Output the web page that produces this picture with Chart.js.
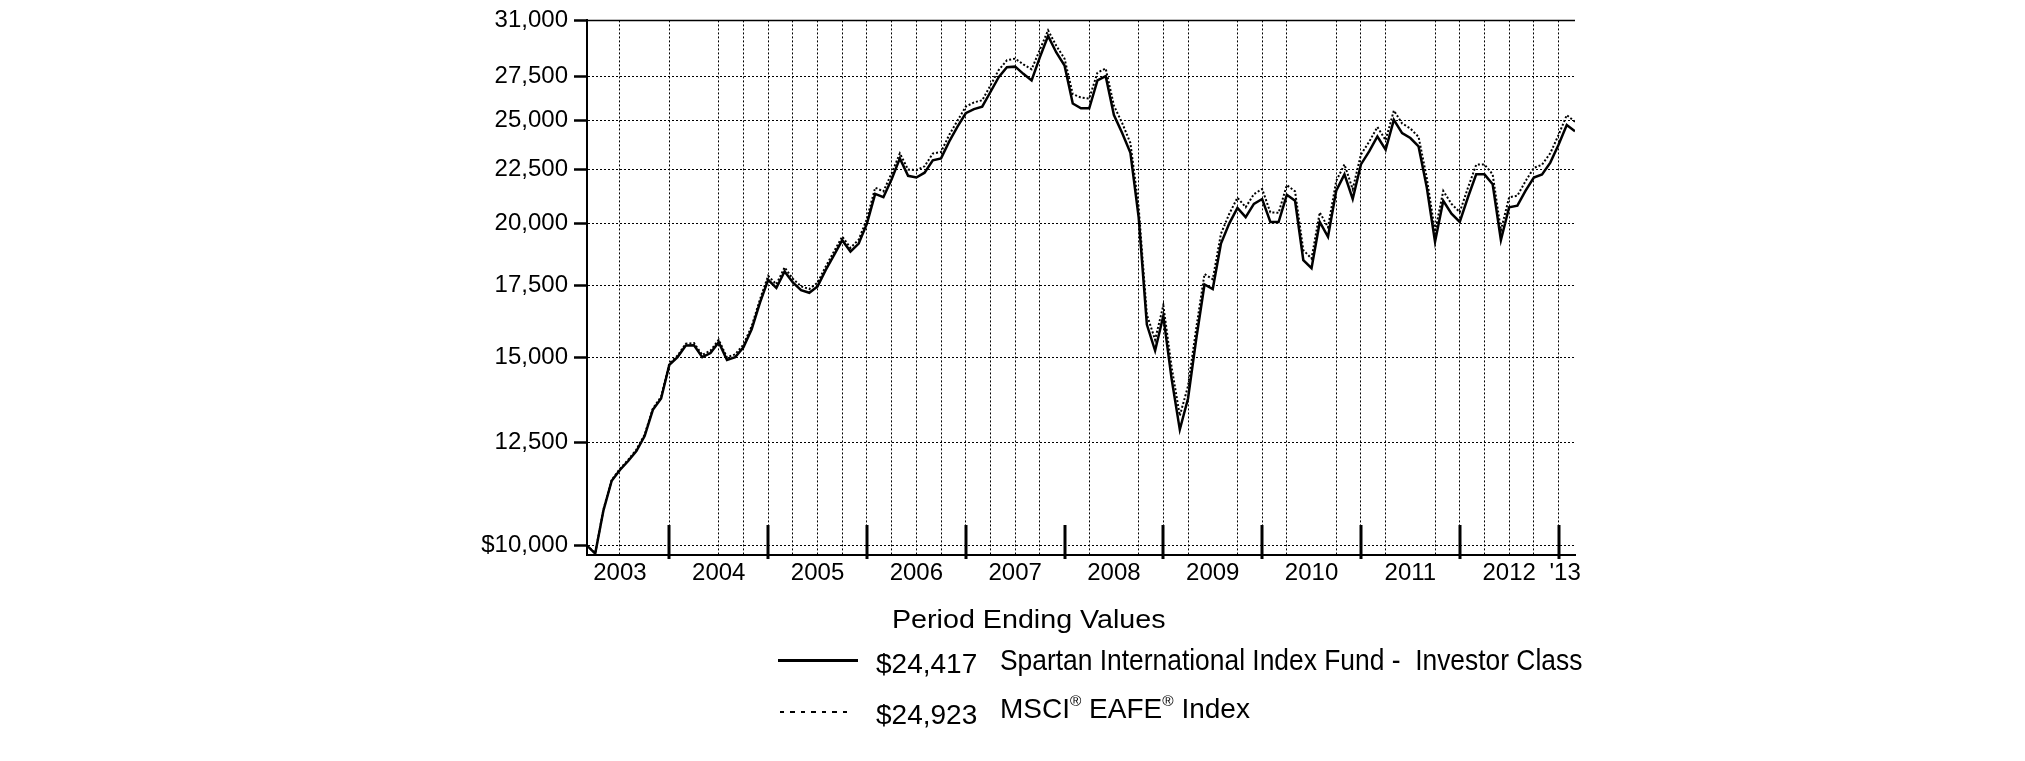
<!DOCTYPE html>
<html lang="en">
<head>
    <meta charset="UTF-8">
    <title>Spartan International Index Fund - Hypothetical Growth of $10,000</title>
    <script src="https://cdn.jsdelivr.net/npm/chart.js"></script>
    <style>
        body {
            margin: 0;
            background: #ffffff;
            color: #000000;
            font-family: 'Liberation Sans', Arial, sans-serif;
        }
        .wrap {
            position: relative;
            width: 2025px;
            height: 761px;
        }
        .txt {
            position: absolute;
            white-space: pre;
            line-height: 1;
            transform-origin: 0 0;
        }
        .txt sup {
            font-size: 55%;
            vertical-align: 0.75em;
            line-height: 0;
        }
        .sample-solid {
            position: absolute;
            height: 3px;
            background: #000;
        }
        .sample-dotted {
            position: absolute;
            height: 2px;
            background: repeating-linear-gradient(to right, #000 0 4px, transparent 4px 10.5px);
        }
    </style>
</head>
<body>
    <div class="wrap">
        <canvas id="growthChart" width="2025" height="761"></canvas>

        <div class="txt" style="left:892px; top:607px; font-size:25.6px; transform:scaleX(1.12);">Period Ending Values</div>

        <div class="sample-solid" style="left:778px; top:659px; width:80px;"></div>
        <div class="txt" style="left:876px; top:650px; font-size:28px;">$24,417</div>
        <div class="txt" style="left:1000px; top:646px; font-size:29px; transform:scaleX(0.91);">Spartan International Index Fund -  Investor Class</div>

        <div class="sample-dotted" style="left:780px; top:711px; width:72px;"></div>
        <div class="txt" style="left:876px; top:701px; font-size:28px;">$24,923</div>
        <div class="txt" style="left:1000px; top:695px; font-size:28px;">MSCI<sup>®</sup> EAFE<sup>®</sup> Index</div>
    </div>

    <script>
        // month-end values, Feb 2003 .. Feb 2013 (121 points)
        const fundValues = [
            10000, 9830, 10790, 11500, 11770, 12000, 12260, 12660, 13400, 13730, 14760,
            15010, 15390, 15400, 15010, 15140, 15500, 14920, 15010, 15330, 15940, 16870, 17730,
            17420, 18050, 17630, 17340, 17240, 17480, 18110, 18700, 19310, 18840, 19170, 20010,
            21330, 21180, 22020, 23030, 22180, 22100, 22330, 22930, 23030, 23890, 24660, 25380,
            25610, 25740, 26570, 27430, 28020, 28060, 27630, 27240, 28630, 29980, 28930, 28130,
            25920, 25650, 25650, 27240, 27490, 25280, 24320, 23310, 20290, 16100, 15220, 16400,
            14330, 12840, 13730, 15610, 17550, 17380, 19170, 20010, 20700, 20290, 20880, 21100,
            20080, 20080, 21290, 21020, 18500, 18180, 20080, 19450, 21480, 22250, 21100, 22730,
            23380, 24140, 23470, 25020, 24320, 24060, 23630, 21630, 19240, 21020, 20440, 20080,
            21180, 22250, 22250, 21780, 19310, 20730, 20800, 21480, 22100, 22250, 22820, 23720,
            24750, 24417
        ];
        const indexValues = [
            10000, 9840, 10810, 11520, 11800, 12030, 12300, 12700, 13440, 13780, 14810,
            15060, 15450, 15470, 15080, 15220, 15580, 15000, 15100, 15420, 16040, 16990, 17880,
            17560, 18210, 17770, 17480, 17380, 17620, 18250, 18850, 19460, 18990, 19330, 20220,
            21620, 21450, 22300, 23280, 22480, 22450, 22640, 23270, 23350, 24230, 24980, 25740,
            25980, 26100, 26950, 27850, 28450, 28550, 28200, 27900, 29100, 30350, 29350, 28550,
            26450, 26250, 26200, 27700, 27950, 25800, 24850, 23800, 20750, 16450, 15580, 16780,
            14700, 13230, 14100, 15980, 17950, 17750, 19580, 20430, 21160, 20730, 21320, 21560,
            20500, 20480, 21740, 21450, 18900, 18560, 20500, 19850, 21940, 22730, 21550, 23220,
            23870, 24640, 23950, 25530, 24830, 24560, 24120, 22080, 19660, 21470, 20880, 20510,
            21620, 22720, 22730, 22250, 19720, 21180, 21250, 21930, 22560, 22720, 23290, 24220,
            25280, 24923
        ];

        const yTicks = [10000, 12500, 15000, 17500, 20000, 22500, 25000, 27500, 31000];
        // months (0 = Feb 2003) that carry a dotted vertical grid line
        const gridMonths = [4, 10, 16, 19, 22, 25, 28, 31, 34, 37, 40, 43, 46, 49, 52, 55,
            61, 67, 70, 73, 79, 82, 85, 91, 94, 97, 103, 106, 109, 112, 115, 118];
        const yearLabelMonths = [4, 16, 28, 40, 52, 64, 76, 88, 100, 112, 118.8];
        const yearLabels = ['2003', '2004', '2005', '2006', '2007', '2008', '2009', '2010', '2011', '2012', "'13"];
        const yearEndMonths = [10, 22, 34, 46, 58, 70, 82, 94, 106, 118];

        const xTicks = Array.from(new Set(gridMonths.concat(yearLabelMonths))).sort((a, b) => a - b);

        const frame = {
            id: 'frame',
            afterDraw(chart) {
                const { ctx, chartArea, scales } = chart;
                ctx.save();
                ctx.strokeStyle = '#000';
                ctx.lineWidth = 1.5;
                ctx.beginPath();
                ctx.moveTo(chartArea.left, chartArea.top);
                ctx.lineTo(chartArea.right, chartArea.top);
                ctx.stroke();
                ctx.lineWidth = 3;
                yearEndMonths.forEach(m => {
                    const x = Math.round(scales.x.getPixelForValue(m));
                    ctx.beginPath();
                    ctx.moveTo(x, chartArea.bottom + 4);
                    ctx.lineTo(x, chartArea.bottom - 30);
                    ctx.stroke();
                });
                ctx.restore();
            }
        };

        const tickFont = { family: "'Liberation Sans', Arial, sans-serif", size: 24 };

        new Chart(document.getElementById('growthChart').getContext('2d'), {
            type: 'line',
            data: {
                datasets: [{
                    label: 'Spartan International Index Fund - Investor Class',
                    data: fundValues.map((v, i) => ({ x: i, y: v })),
                    borderColor: '#000',
                    borderWidth: 2.5,
                    pointRadius: 0,
                    tension: 0
                }, {
                    label: 'MSCI EAFE Index',
                    data: indexValues.map((v, i) => ({ x: i, y: v })),
                    borderColor: '#000',
                    borderWidth: 2,
                    borderDash: [2, 2],
                    pointRadius: 0,
                    tension: 0
                }]
            },
            options: {
                responsive: false,
                animation: false,
                layout: { padding: { left: 0, right: 450, top: 14, bottom: 0 } },
                plugins: { legend: { display: false }, tooltip: { enabled: false } },
                scales: {
                    x: {
                        type: 'linear',
                        min: 0,
                        max: 120,
                        afterBuildTicks: scale => { scale.ticks = xTicks.map(v => ({ value: v })); },
                        afterFit: scale => { scale.height = 206; },
                        ticks: {
                            autoSkip: false,
                            maxRotation: 0,
                            padding: 4,
                            color: '#000',
                            font: tickFont,
                            callback: value => {
                                const k = yearLabelMonths.indexOf(value);
                                return k >= 0 ? yearLabels[k] : '';
                            }
                        },
                        grid: {
                            drawTicks: false,
                            lineWidth: 1,
                            color: ctx => (ctx.tick && gridMonths.includes(ctx.tick.value)) ? '#000' : 'rgba(0,0,0,0)'
                        },
                        border: { display: true, color: '#000', width: 2, dash: [2, 2] }
                    },
                    y: {
                        type: 'logarithmic',
                        min: 9800,
                        max: 31000,
                        afterBuildTicks: scale => { scale.ticks = yTicks.map(v => ({ value: v })); },
                        afterFit: scale => { scale.width = 587; },
                        ticks: {
                            autoSkip: false,
                            padding: 6,
                            color: '#000',
                            font: tickFont,
                            callback: value => (value === 10000 ? '$' : '') + value.toLocaleString('en-US')
                        },
                        grid: {
                            color: '#000',
                            lineWidth: 1,
                            tickLength: 13,
                            tickWidth: 2.5,
                            tickColor: '#000'
                        },
                        border: { display: true, color: '#000', width: 2, dash: [2, 2] }
                    }
                }
            },
            plugins: [frame]
        });
    </script>
</body>
</html>
